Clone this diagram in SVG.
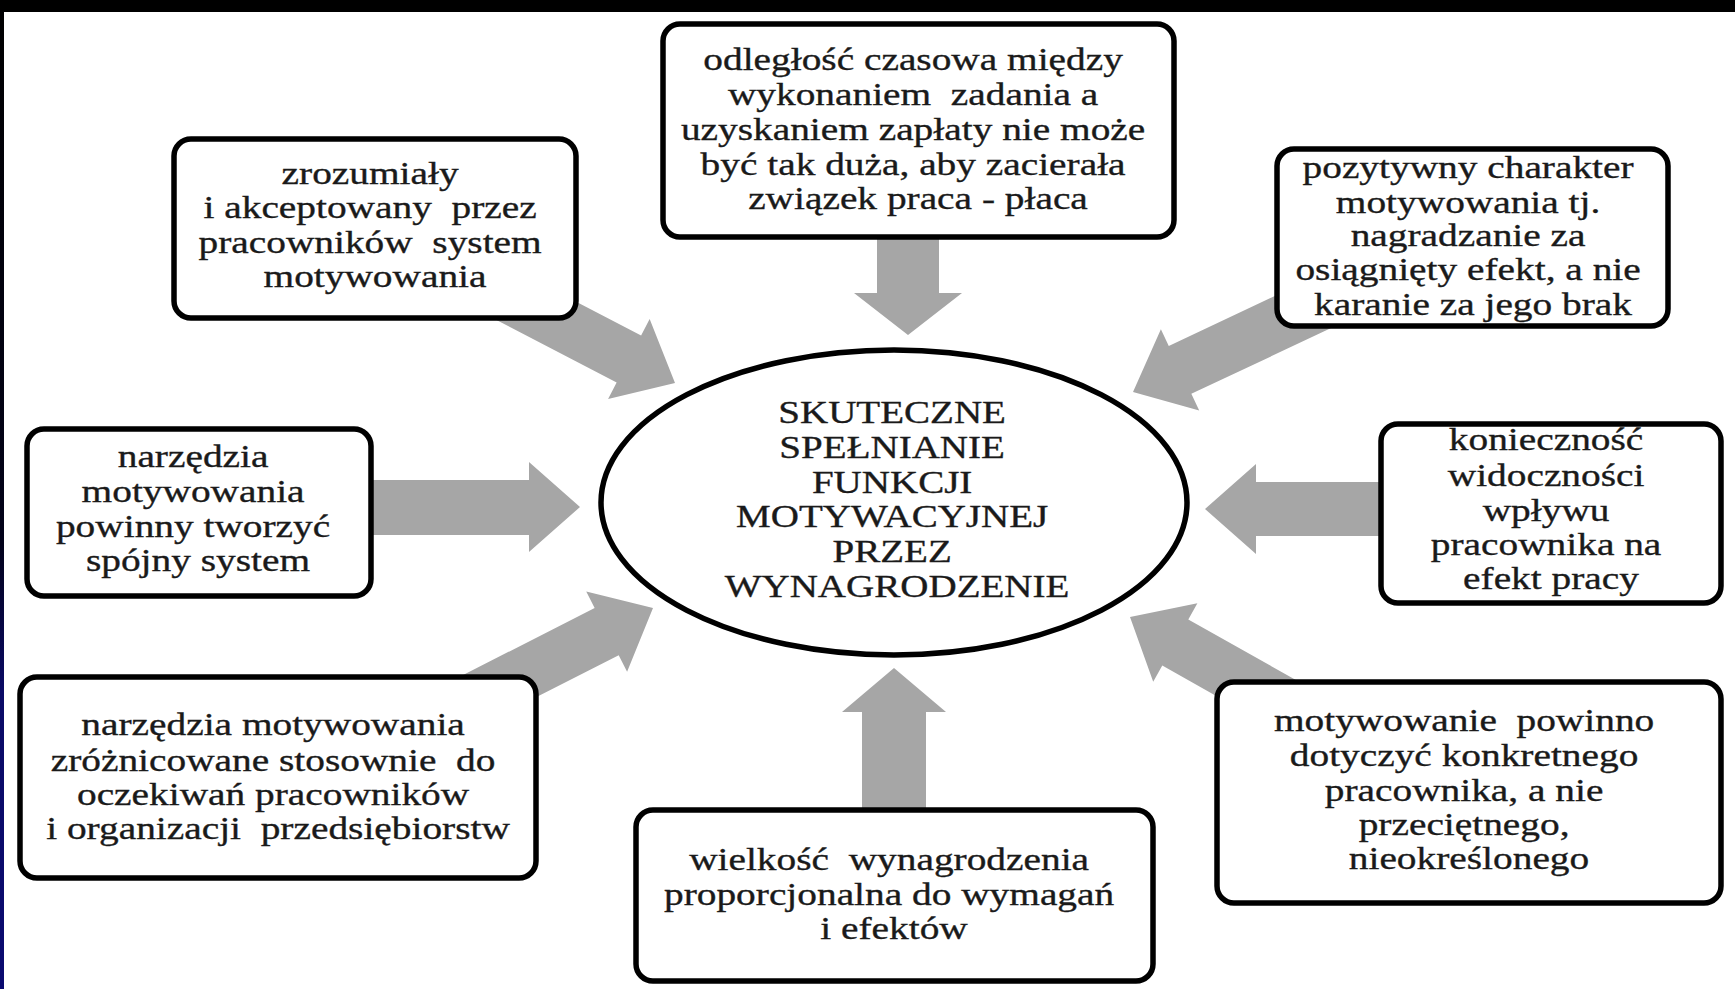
<svg xmlns="http://www.w3.org/2000/svg" width="1735" height="989" viewBox="0 0 1735 989">
  <defs>
    <linearGradient id="leftGrad" x1="0" y1="0" x2="0" y2="1">
      <stop offset="0" stop-color="#000000"/>
      <stop offset="0.55" stop-color="#02021a"/>
      <stop offset="0.7" stop-color="#0a0a66"/>
      <stop offset="1" stop-color="#0a0a70"/>
    </linearGradient>
    <style>
      .box { fill: #ffffff; stroke: #000000; stroke-width: 5.5; }
      .ell { fill: #ffffff; stroke: #000000; stroke-width: 5.5; }
      .arr { fill: #a6a6a6; stroke: none; }
      .t { font-family: "Liberation Serif", "Times New Roman", serif; font-size: 32px; fill: #1a1a1a; stroke: #1a1a1a; stroke-width: 0.35; text-anchor: middle; }
      .tc { font-family: "Liberation Serif", "Times New Roman", serif; font-size: 32px; fill: #1a1a1a; stroke: #1a1a1a; stroke-width: 0.35; text-anchor: middle; }
    </style>
  </defs>

  <rect x="0" y="0" width="1735" height="989" fill="#ffffff"/>
  <rect x="0" y="0" width="1735" height="12" fill="#000000"/>
  <rect x="0" y="0" width="4" height="989" fill="url(#leftGrad)"/>

  <g id="connectors">
    <polygon class="arr" points="908,335 854,293 877,293 877,215 939,215 939,293 962,293"/>
    <polygon class="arr" points="894,668 946,712 926,712 926,830 862,830 862,712 842,712"/>
    <polygon class="arr" points="580,507 529,462 529,480 350,480 350,535 529,535 529,552"/>
    <polygon class="arr" points="1205,509 1256,464 1256,482 1400,482 1400,536 1256,536 1256,554"/>
    <polygon class="arr" transform="translate(675 383) rotate(27.5)" points="0,0 -52,-45 -52,-26.5 -200,-26.5 -200,26.5 -52,26.5 -52,45"/>
    <polygon class="arr" transform="translate(1133 392) rotate(154.8)" points="0,0 -52,-45 -52,-26.5 -220,-26.5 -220,26.5 -52,26.5 -52,45"/>
    <polygon class="arr" transform="translate(653 608) rotate(-27)" points="0,0 -52,-45 -52,-26.5 -215,-26.5 -215,26.5 -52,26.5 -52,45"/>
    <polygon class="arr" transform="translate(1130 617) rotate(209.4)" points="0,0 -52,-45 -52,-26.5 -200,-26.5 -200,26.5 -52,26.5 -52,45"/>
  </g>

  <g id="center">
    <ellipse class="ell" cx="894" cy="502.5" rx="293" ry="152.5"/>
    <g transform="translate(897 0) scale(1.22 1)">
      <text class="tc">
        <tspan x="0" y="423">SKUTECZNE</tspan>
        <tspan x="0" y="458">SPEŁNIANIE</tspan>
        <tspan x="0" y="493">FUNKCJI</tspan>
        <tspan x="0" y="527">MOTYWACYJNEJ</tspan>
        <tspan x="0" y="562">PRZEZ</tspan>
        <tspan x="0" y="597">WYNAGRODZENIE</tspan>
      </text>
    </g>
  </g>

  <g id="node-odleglosc">
    <rect class="box" x="663" y="24" width="511" height="213" rx="17"/>
    <g transform="translate(918 0) scale(1.23 1)">
      <text class="t">
        <tspan x="0" y="70.5">odległość czasowa między</tspan>
        <tspan x="0" y="105.5">wykonaniem&#160; zadania a</tspan>
        <tspan x="0" y="140">uzyskaniem zapłaty nie może</tspan>
        <tspan x="0" y="175">być tak duża, aby zacierała</tspan>
        <tspan x="0" y="209.5">związek praca - płaca</tspan>
      </text>
    </g>
  </g>

  <g id="node-zrozumialy">
    <rect class="box" x="174" y="139" width="402" height="179" rx="17"/>
    <g transform="translate(375 0) scale(1.23 1)">
      <text class="t">
        <tspan x="0" y="184">zrozumiały</tspan>
        <tspan x="0" y="218">i akceptowany&#160; przez</tspan>
        <tspan x="0" y="253">pracowników&#160; system</tspan>
        <tspan x="0" y="287">motywowania</tspan>
      </text>
    </g>
  </g>

  <g id="node-pozytywny">
    <rect class="box" x="1277" y="149" width="391" height="177" rx="17"/>
    <g transform="translate(1473 0) scale(1.23 1)">
      <text class="t">
        <tspan x="0" y="178">pozytywny charakter</tspan>
        <tspan x="0" y="213">motywowania tj.</tspan>
        <tspan x="0" y="246.5">nagradzanie za</tspan>
        <tspan x="0" y="280.5">osiągnięty efekt, a nie</tspan>
        <tspan x="0" y="315">karanie za jego brak</tspan>
      </text>
    </g>
  </g>

  <g id="node-spojny">
    <rect class="box" x="27" y="429" width="344" height="167" rx="17"/>
    <g transform="translate(198 0) scale(1.23 1)">
      <text class="t">
        <tspan x="0" y="467">narzędzia</tspan>
        <tspan x="0" y="502">motywowania</tspan>
        <tspan x="0" y="537">powinny tworzyć</tspan>
        <tspan x="0" y="571.5">spójny system</tspan>
      </text>
    </g>
  </g>

  <g id="node-koniecznosc">
    <rect class="box" x="1381" y="424" width="340" height="179" rx="17"/>
    <g transform="translate(1551 0) scale(1.23 1)">
      <text class="t">
        <tspan x="0" y="450">konieczność</tspan>
        <tspan x="0" y="486">widoczności</tspan>
        <tspan x="0" y="521">wpływu</tspan>
        <tspan x="0" y="555">pracownika na</tspan>
        <tspan x="0" y="589.5">efekt pracy</tspan>
      </text>
    </g>
  </g>

  <g id="node-zroznicowane">
    <rect class="box" x="20" y="677" width="516" height="201" rx="17"/>
    <g transform="translate(278 0) scale(1.23 1)">
      <text class="t">
        <tspan x="0" y="735.5">narzędzia motywowania</tspan>
        <tspan x="0" y="771">zróżnicowane stosownie&#160; do</tspan>
        <tspan x="0" y="805">oczekiwań pracowników</tspan>
        <tspan x="0" y="839.5">i organizacji&#160; przedsiębiorstw</tspan>
      </text>
    </g>
  </g>

  <g id="node-wielkosc">
    <rect class="box" x="636" y="810" width="517" height="171" rx="17"/>
    <g transform="translate(894 0) scale(1.23 1)">
      <text class="t">
        <tspan x="0" y="870.5">wielkość&#160; wynagrodzenia</tspan>
        <tspan x="0" y="905.5">proporcjonalna do wymagań</tspan>
        <tspan x="0" y="939">i efektów</tspan>
      </text>
    </g>
  </g>

  <g id="node-motywowanie">
    <rect class="box" x="1217" y="682" width="504" height="221" rx="17"/>
    <g transform="translate(1469 0) scale(1.23 1)">
      <text class="t">
        <tspan x="0" y="731">motywowanie&#160; powinno</tspan>
        <tspan x="0" y="766">dotyczyć konkretnego</tspan>
        <tspan x="0" y="801.5">pracownika, a nie</tspan>
        <tspan x="0" y="835">przeciętnego,</tspan>
        <tspan x="0" y="869.5">nieokreślonego</tspan>
      </text>
    </g>
  </g>
</svg>
